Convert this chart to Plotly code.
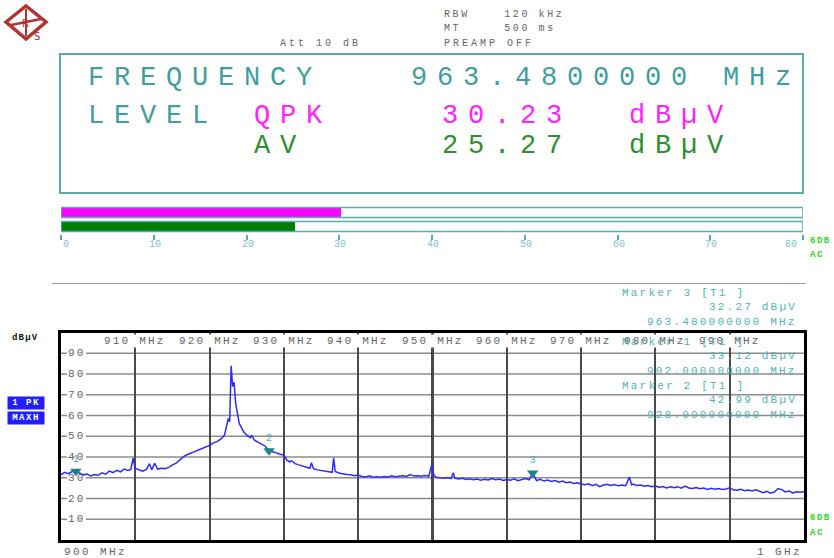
import plotly.graph_objects as go

W, H = 834, 558

# ---- measured spectrum (MHz, dBuV) ----
freq_mhz = [
    900.0, 900.5, 901.0, 901.5, 902.0, 902.5, 903.0, 903.5, 904.0, 904.5,
    905.0, 905.5, 906.0, 906.5, 907.0, 907.5, 908.0, 908.5, 909.0, 909.4,
    909.7, 910.0, 910.5, 911.0, 911.5, 911.9, 912.2, 912.6, 913.0, 913.5,
    914.0, 914.5, 915.0, 915.5, 916.0, 916.5, 917.0, 917.5, 918.0, 918.5,
    919.0, 919.5, 920.0, 920.5, 921.0, 921.5, 922.0, 922.3, 922.5, 922.7,
    922.9, 923.1, 923.3, 923.5, 923.8, 924.0, 924.3, 924.6, 925.0, 925.5,
    925.7, 926.0, 926.5, 927.0, 927.5, 928.0, 928.5, 929.0, 929.5, 930.0,
    930.4, 930.8, 931.0, 931.5, 932.0, 932.5, 933.0, 933.5, 933.7, 934.0,
    934.5, 935.0, 935.5, 936.0, 936.5, 936.7, 936.9, 937.5, 938.0, 938.5,
    939.0, 939.5, 940.0, 940.5, 941.0, 941.5, 942.0, 942.5, 943.0, 943.5,
    944.0, 944.5, 945.0, 945.5, 946.0, 946.5, 947.0, 947.5, 948.0, 948.5,
    949.0, 949.5, 949.9, 950.2, 950.5, 951.0, 951.5, 952.0, 952.5, 952.8,
    953.0, 953.5, 954.0, 954.5, 955.0, 955.5, 956.0, 956.5, 957.0, 957.5,
    958.0, 958.5, 959.0, 959.5, 960.0, 960.5, 961.0, 961.5, 962.0, 962.5,
    963.0, 963.48, 964.0, 964.5, 965.0, 965.5, 966.0, 966.5, 967.0, 967.5,
    968.0, 968.5, 969.0, 969.5, 970.0, 970.5, 971.0, 971.5, 972.0, 972.5,
    973.0, 973.5, 974.0, 974.5, 975.0, 975.5, 976.0, 976.5, 976.8, 977.0,
    977.5, 978.0, 978.5, 979.0, 979.5, 980.0, 980.5, 981.0, 981.5, 982.0,
    982.5, 983.0, 983.5, 984.0, 984.5, 985.0, 985.5, 986.0, 986.5, 987.0,
    987.5, 988.0, 988.5, 989.0, 989.5, 990.0, 990.5, 991.0, 991.5, 992.0,
    992.5, 993.0, 993.5, 994.0, 994.5, 995.0, 995.5, 996.0, 996.5, 997.0,
    997.5, 998.0, 998.5, 999.0, 999.5, 1000.0,
]
level_dbuv = [
    31.5, 32.6, 32.0, 33.0, 33.12, 32.2, 31.4, 31.8, 30.9, 31.6,
    31.2, 32.4, 31.7, 33.2, 32.5, 33.6, 32.8, 34.2, 33.5, 34.0,
    39.4, 34.5, 33.8, 33.2, 34.0, 36.8, 33.8, 37.0, 34.2, 34.6,
    34.4, 35.0, 36.2, 37.0, 38.6, 40.2, 41.2, 41.8, 42.6, 43.4,
    44.2, 44.8, 45.6, 46.8, 47.4, 48.6, 50.5, 55.0, 58.5, 57.0,
    84.0, 74.0, 76.0, 66.0, 59.0, 56.0, 54.0, 52.0, 50.5, 49.3,
    50.5, 48.2, 47.2, 46.3, 45.2, 42.99, 42.6, 42.0, 41.3, 41.0,
    38.5, 37.6, 38.2, 36.8, 36.2, 35.6, 35.2, 34.6, 37.2, 34.3,
    33.8, 33.5, 33.1, 32.9, 32.6, 39.5, 33.0, 32.2, 31.8, 31.6,
    31.4, 31.0, 31.3, 30.6, 30.4, 30.9, 30.3, 30.5, 30.2, 30.6,
    30.4, 30.9, 30.5, 30.7, 31.0, 30.6, 31.5, 30.8, 31.0, 30.7,
    31.1, 30.8, 36.3, 31.0, 30.2, 30.0, 29.8, 30.1, 29.6, 32.4,
    29.8, 29.4, 29.7, 29.2, 29.5, 29.0, 29.4, 28.8, 29.3, 28.9,
    29.6, 29.0, 29.4, 28.7, 29.2, 28.8, 29.5, 28.6, 29.1, 29.6,
    29.0, 32.27, 28.6, 29.2, 28.4, 28.9, 28.2, 28.7, 27.9, 28.4,
    27.6, 27.9, 27.2, 27.6, 27.0, 26.6, 27.1, 26.2, 26.8, 25.7,
    26.5, 26.9, 26.3, 26.7, 26.1, 26.5, 26.2, 30.3, 26.6, 27.0,
    26.3, 26.5, 25.9, 26.3, 25.7, 26.1, 25.3, 25.8, 25.1, 25.6,
    25.2, 25.7, 25.0, 26.0, 25.1, 24.8, 25.3, 24.7, 25.0, 24.4,
    24.9, 24.5, 24.8, 24.3, 24.6, 25.2, 24.2, 24.0, 24.4, 23.8,
    24.1, 23.6, 24.2, 23.3, 22.8, 23.5, 22.6, 23.1, 24.8, 24.3,
    23.2, 23.6, 22.7, 23.2, 23.0, 23.3,
]

# ---- markers ----
marker_ids = [1, 2, 3]
marker_freq = [902.0, 928.0, 963.48]
marker_level = [33.12, 42.99, 32.27]

# ---- detector readouts ----
meter_labels = ["QPK", "AV"]
meter_values = [30.23, 25.27]
meter_ticks = [0, 10, 20, 30, 40, 50, 60, 70, 80]

freq_ticks = [910, 920, 930, 940, 950, 960, 970, 980, 990]
level_ticks = [10, 20, 30, 40, 50, 60, 70, 80, 90]

MONO = "Liberation Mono"
TEAL = "#3f9e9e"
TEAL_LINE = "#5aacac"
TEAL_LIGHT = "#7cc4c4"
MAGENTA = "#ff22ff"
GREEN = "#2e8f2e"
GRAY_TXT = "#666666"
BRIGHT_GREEN = "#22dd22"
MARK_TXT = "#52b2b2"


def px(x):
    return x / W


def py(y):
    return 1 - y / H


def spaced(s, ls):
    return f'<span style="letter-spacing:{ls}px">{s}</span>'


def nb(s):
    return s.replace(" ", "\u00a0")


annotations = []
shapes = []


def label(x, y, text, size=11, color=GRAY_TXT, anchor="left", ls=2.2,
          bold=False, **kw):
    t = spaced(nb(text), ls)
    if bold:
        t = f"<b>{t}</b>"
    if anchor == "right":
        x = x + ls
    annotations.append(dict(
        x=px(x), y=py(y), xref="paper", yref="paper", text=t,
        showarrow=False, xanchor=anchor, yanchor="middle",
        font=dict(family=MONO, size=size, color=color), **kw))


# ---- spectrum grid: frequency labels sit on white in the top band ----
for f in freq_ticks:
    annotations.append(dict(
        x=f, y=py(341), xref="x", yref="paper",
        text=spaced(nb(f"{f} MHz"), 2.2), showarrow=False,
        xanchor="center", yanchor="middle", bgcolor="white", borderpad=0,
        font=dict(family=MONO, size=11, color=GRAY_TXT)))

# level grid: short stub, gap for the label, then the full line
for v in level_ticks:
    shapes.append(dict(type="line", xref="paper", yref="y", x0=px(61), x1=px(67),
                       y0=v, y1=v, layer="below", line=dict(color="#8c8c8c", width=1.6)))
    shapes.append(dict(type="line", xref="paper", yref="y", x0=px(86), x1=px(804),
                       y0=v, y1=v, layer="below", line=dict(color="#8c8c8c", width=1.6)))
    annotations.append(dict(
        x=px(76.5), y=v, xref="paper", yref="y",
        text=spaced(str(v), 2.2), showarrow=False,
        xanchor="center", yanchor="middle",
        font=dict(family=MONO, size=11, color=GRAY_TXT)))

# header settings
label(442, 14, "RBW    120 kHz", size=10, ls=2.6)
label(442, 29, "MT     500 ms", size=10, ls=2.6)
label(442, 44, "PREAMP OFF", size=10, ls=3)
label(278, 44, "Att 10 dB", size=10, ls=3)

# big readout panel
BIG = 27
BIG_LS = 26 - 0.6 * BIG
label(86, 78, "FREQUENCY", size=BIG, color=TEAL, ls=BIG_LS)
label(409, 78, f"{marker_freq[2]:.7f} MHz", size=BIG, color=TEAL, ls=BIG_LS)
label(86, 116, "LEVEL", size=BIG, color=TEAL, ls=BIG_LS)
readout_y = [116, 146]
readout_col = [MAGENTA, GREEN]
for name, val, yy, col in zip(meter_labels, meter_values, readout_y, readout_col):
    label(252, yy, name, size=BIG, color=col, ls=BIG_LS)
    label(440, yy, f"{val:.2f}", size=BIG, color=col, ls=BIG_LS)
    label(627, yy, "dBµV", size=BIG, color=col, ls=BIG_LS)

# bargraph scale labels (end labels kept inside the scale)
for t in meter_ticks:
    if t == meter_ticks[0]:
        anc, shift = "left", 0
    elif t == meter_ticks[-1]:
        anc, shift = "right", -4
    else:
        anc, shift = "center", 1
    annotations.append(dict(
        x=t, y=py(244), xref="x2", yref="paper", text=str(t), xshift=shift,
        showarrow=False, xanchor=anc, yanchor="middle",
        font=dict(family=MONO, size=10, color=TEAL_LIGHT)))

# detector flags
label(808, 241, "6DB", size=9, color=BRIGHT_GREEN, ls=1.5, bold=True)
label(808, 255, "AC", size=9, color=BRIGHT_GREEN, ls=1.5, bold=True)
label(808, 518, "6DB", size=9, color=BRIGHT_GREEN, ls=1.5, bold=True)
label(808, 533, "AC", size=9, color=BRIGHT_GREEN, ls=1.5, bold=True)

# marker readouts
info_order = [2, 0, 1]
info_y = [293, 342, 386]
for idx, y0 in zip(info_order, info_y):
    label(620, y0, f"Marker {marker_ids[idx]} [T1 ]", size=11, color=MARK_TXT, ls=2.2)
    label(797, y0 + 14, f"{marker_level[idx]:.2f} dBµV", size=11, color=MARK_TXT,
          anchor="right", ls=2.2)
    label(797, y0 + 29, f"{marker_freq[idx]:.9f} MHz", size=11, color=MARK_TXT,
          anchor="right", ls=2.2)

# trace side labels
label(10, 338, "dBµV", size=9, color="#111111", ls=1.2, bold=True)
for txt, yy in (("1 PK", 403), ("MAXH", 418)):
    annotations.append(dict(
        x=px(26), y=py(yy), xref="paper", yref="paper",
        text=f"<b>{spaced(nb(txt), 1.5)}</b>", showarrow=False,
        xanchor="center", yanchor="middle", width=36, height=12,
        bgcolor="#1f1fff", borderpad=0,
        font=dict(family=MONO, size=9, color="white")))

label(62, 552, "900 MHz", size=11, ls=2.4)
label(802, 552, "1 GHz", size=11, ls=2.4, anchor="right")

# readout panel frame
shapes.append(dict(type="rect", xref="paper", yref="paper",
                   x0=px(60), x1=px(803), y0=py(193), y1=py(54),
                   line=dict(color=TEAL_LINE, width=2)))

# bargraph frames
for i in range(len(meter_labels)):
    yc = len(meter_labels) - 1 - i
    shapes.append(dict(type="rect", xref="x2", yref="y2", x0=0, x1=80,
                       y0=yc - 0.36, y1=yc + 0.36, layer="above",
                       line=dict(color=TEAL_LINE, width=1.6)))

# separator line
shapes.append(dict(type="line", xref="paper", yref="paper",
                   x0=px(52), x1=px(806), y0=py(283.5), y1=py(283.5),
                   line=dict(color="#9a9a9a", width=1)))

# centre frequency line
shapes.append(dict(type="line", xref="x", yref="y domain", x0=950, x1=950,
                   y0=0, y1=1, layer="below", line=dict(color="#111111", width=2.5)))


# logo
def pth(points):
    s = "M " + " L ".join(f"{px(x)},{py(y)}" for x, y in points)
    return s + " Z"


LOGO = "#b03434"
shapes.append(dict(type="path", xref="paper", yref="paper",
                   path=pth([(6, 22), (26, 6), (46, 22), (26, 39)]),
                   line=dict(color=LOGO, width=3.5), fillcolor="white"))
shapes.append(dict(type="line", xref="paper", yref="paper",
                   x0=px(11), y0=py(25), x1=px(41), y1=py(19),
                   line=dict(color=LOGO, width=2.5)))
shapes.append(dict(type="line", xref="paper", yref="paper",
                   x0=px(26), y0=py(9), x1=px(26), y1=py(36),
                   line=dict(color=LOGO, width=2)))
annotations.append(dict(x=px(20), y=py(16), xref="paper", yref="paper", text="R",
                        showarrow=False, font=dict(family="DejaVu Sans", size=10, color=LOGO)))
annotations.append(dict(x=px(32), y=py(29), xref="paper", yref="paper", text="S",
                        showarrow=False, font=dict(family="DejaVu Sans", size=10, color=LOGO)))

fig = go.Figure()

fig.add_trace(go.Scatter(
    x=freq_mhz, y=level_dbuv, mode="lines", xaxis="x", yaxis="y",
    line=dict(color="#2b2bff", width=1.5), hoverinfo="skip", showlegend=False))

fig.add_trace(go.Scatter(
    x=marker_freq, y=marker_level, mode="markers+text", xaxis="x", yaxis="y",
    text=[str(m) for m in marker_ids], textposition="top center",
    textfont=dict(family=MONO, size=10, color=MARK_TXT),
    marker=dict(symbol="triangle-down", size=10, color="#1c8383"),
    showlegend=False, hoverinfo="skip"))

fig.add_trace(go.Bar(
    x=meter_values, y=[len(meter_values) - 1 - i for i in range(len(meter_values))],
    orientation="h", xaxis="x2", yaxis="y2", width=0.72,
    marker=dict(color=["#ff00ff", "#007f00"], line=dict(width=0)),
    showlegend=False, hoverinfo="skip"))

fig.update_layout(
    width=W, height=H,
    margin=dict(l=0, r=0, t=0, b=0),
    paper_bgcolor="white", plot_bgcolor="white",
    font=dict(family=MONO),
    showlegend=False,
    xaxis=dict(domain=[px(61), px(804)], range=[900, 1000], anchor="y",
               tickvals=freq_ticks, showticklabels=False, ticks="",
               showgrid=True, gridcolor="#4a4a4a", gridwidth=1.6,
               showline=True, mirror=True, linecolor="#000000", linewidth=2.5,
               zeroline=False, fixedrange=True),
    yaxis=dict(domain=[py(540), py(332.5)], range=[0, 100], anchor="x",
               tickvals=level_ticks, showticklabels=False, ticks="",
               showgrid=False,
               showline=True, mirror=True, linecolor="#000000", linewidth=2.5,
               zeroline=False, fixedrange=True),
    xaxis2=dict(domain=[px(61), px(803)], range=[0, 80], anchor="y2",
                tickvals=meter_ticks, ticks="outside", ticklen=5, tickwidth=1.5,
                tickcolor=TEAL_LINE, showticklabels=False,
                showgrid=False, showline=False, zeroline=False, fixedrange=True),
    yaxis2=dict(domain=[py(233.5), py(205.5)], range=[-0.5, 1.5], anchor="x2",
                visible=False, fixedrange=True),
    bargap=0,
    annotations=annotations,
    shapes=shapes,
)

fig.write_html("out.html")
